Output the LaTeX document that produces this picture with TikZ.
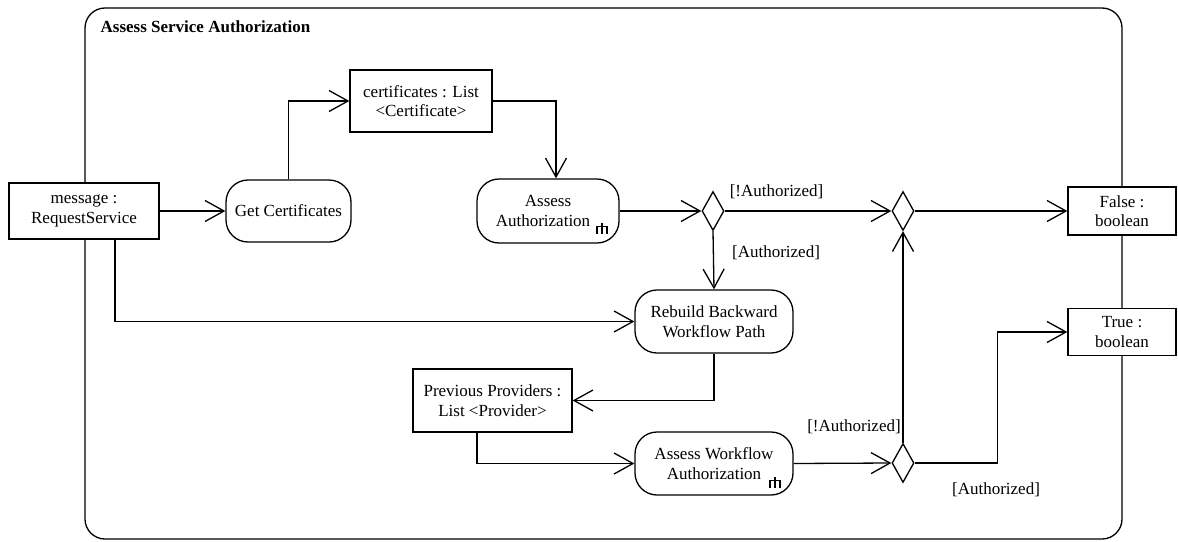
\documentclass[tikz,border=0pt]{standalone}
\usepackage{fontspec}
\setmainfont{Liberation Serif}
\usetikzlibrary{arrows.meta,shapes.geometric}
\begin{document}
\begin{tikzpicture}[x=1pt,y=-1pt,
  line width=1.3pt,
  font=\fontsize{17}{19.5}\selectfont,
  flow/.style={-{Straight Barb[length=19pt,width=21pt,line width=1.3pt]}},
  objbox/.style={draw,fill=white,rectangle,inner sep=0pt,align=center},
  actbox/.style={draw,fill=white,rectangle,rounded corners=22pt,inner sep=0pt,align=center},
  choice/.style={draw,fill=white,diamond,inner sep=0pt,minimum width=22pt,minimum height=39pt},
  guard/.style={inner sep=0pt},
  rake/.style={line width=1.2pt}
]
\useasboundingbox (0,0) rectangle (1178,541);

% activity frame
\draw[rounded corners=20pt] (85,8) rectangle (1122,539);
\node[anchor=west,inner sep=0pt,font=\fontsize{17}{19.5}\selectfont\bfseries] (title) at (100,27) {Assess Service Authorization};

% object nodes and pins
\node[objbox,minimum width=150pt,minimum height=56pt] (msg) at (84,211) {message :\\RequestService};
\node[objbox,minimum width=142pt,minimum height=62pt] (certs) at (421,101) {certificates : List\\<Certificate>};
\node[objbox,minimum width=159pt,minimum height=63pt] (prev) at (492.5,400.5) {Previous Providers :\\List <Provider>};
\node[objbox,minimum width=108pt,minimum height=48pt] (false) at (1122,211) {False :\\boolean};
\node[objbox,minimum width=108pt,minimum height=47pt] (true) at (1122,332) {True :\\boolean};

% actions
\node[actbox,minimum width=125pt,minimum height=62pt] (getc) at (288.5,211) {Get Certificates};
\node[actbox,minimum width=142pt,minimum height=64pt] (assess) at (548,211) {Assess\\Authorization\hspace*{10pt}};
\node[actbox,minimum width=158pt,minimum height=63pt] (rebuild) at (714,321.5) {Rebuild Backward\\Workflow Path};
\node[actbox,minimum width=158pt,minimum height=63pt] (awa) at (714,463.5) {Assess Workflow\\Authorization};

% call-behaviour rake symbols
\foreach \cx/\cy in {602/228, 775/482}{
  \draw[rake] (\cx,\cy-5.5) -- (\cx,\cy+5.5)
    (\cx-5,\cy+5.5) -- (\cx-5,\cy-1.5) -- (\cx+5,\cy-1.5) -- (\cx+5,\cy+5.5);
}

% decisions
\node[choice] (d1) at (713,211) {};
\node[choice] (d2) at (903,211) {};
\node[choice] (d3) at (903,463) {};

% flows
\draw[flow] (msg.east) -- (getc.west);
\draw[flow] (getc.north) |- (certs.west);
\draw[flow] (certs.east) -| ([xshift=8pt]assess.north);
\draw[flow] (assess.east) -- (d1.west);
\draw[flow] (d1.east) -- (d2.west);
\draw[flow] (d1.south) -- (rebuild.north);
\draw[flow] (d2.east) -- (false.west);
\draw[flow] ([xshift=31pt]msg.south) |- (rebuild.west);
\draw[flow] (rebuild.south) |- (prev.east);
\draw[flow] ([xshift=-15.5pt]prev.south) |- (awa.west);
\draw[flow] (awa.east) -- (d3.west);
\draw[flow] (d3.north) -- (d2.south);
\draw[flow] (d3.east) -- ++(83,0) |- (true.west);

% guards
\node[guard] (g1) at (776.5,192) {[!Authorized]};
\node[guard] (g2) at (776,253) {[Authorized]};
\node[guard] (g3) at (854,427) {[!Authorized]};
\node[guard] (g4) at (996,490) {[Authorized]};
\end{tikzpicture}
\end{document}
